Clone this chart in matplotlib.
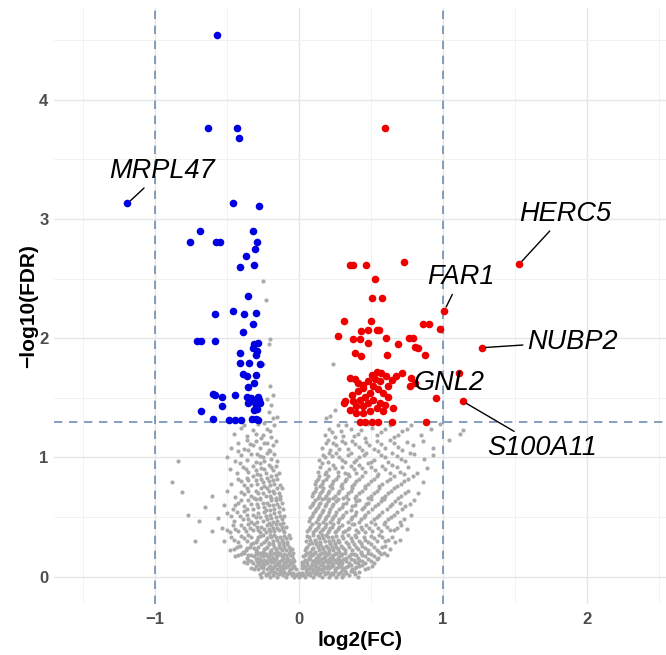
import matplotlib
matplotlib.use("Agg")
import matplotlib.pyplot as plt
from matplotlib.ticker import MultipleLocator

plt.rcParams["font.family"] = ["Liberation Sans", "DejaVu Sans"]

# significant, down-regulated (blue)
down_pts = [
    (-0.567, 4.54), (-0.63, 3.76), (-0.426, 3.76), (-0.417, 3.68),
    (-1.19, 3.13), (-0.46, 3.13), (-0.278, 3.11),
    (-0.683, 2.90), (-0.757, 2.81), (-0.576, 2.81), (-0.549, 2.81),
    (-0.317, 2.90), (-0.29, 2.81), (-0.306, 2.75), (-0.368, 2.69), (-0.405, 2.60), (-0.31, 2.61),
    (-0.352, 2.35),
    (-0.58, 2.20), (-0.456, 2.23), (-0.38, 2.20), (-0.294, 2.21), (-0.317, 2.12), (-0.39, 2.05),
    (-0.71, 1.98), (-0.676, 1.98), (-0.58, 1.98),
    (-0.31, 1.95), (-0.28, 1.96), (-0.32, 1.92), (-0.29, 1.89), (-0.30, 1.86),
    (-0.405, 1.875), (-0.41, 1.79), (-0.345, 1.79), (-0.266, 1.78),
    (-0.39, 1.70), (-0.363, 1.68), (-0.30, 1.69), (-0.31, 1.62), (-0.35, 1.59),
    (-0.595, 1.53), (-0.58, 1.52), (-0.53, 1.51), (-0.446, 1.52),
    (-0.363, 1.51), (-0.33, 1.50), (-0.285, 1.51), (-0.276, 1.48),
    (-0.535, 1.43), (-0.35, 1.46), (-0.30, 1.44), (-0.27, 1.46), (-0.32, 1.47),
    (-0.676, 1.39), (-0.31, 1.40), (-0.29, 1.41),
    (-0.595, 1.32), (-0.484, 1.31), (-0.444, 1.31), (-0.398, 1.31),
    (-0.325, 1.32), (-0.295, 1.32), (-0.28, 1.31),
]

# significant, up-regulated (red)
up_pts = [
    (0.597, 3.76), (1.53, 2.62),
    (0.359, 2.61), (0.377, 2.61), (0.465, 2.61), (0.729, 2.64), (0.53, 2.50),
    (0.51, 2.34), (0.576, 2.34), (1.01, 2.23),
    (0.317, 2.14), (0.498, 2.14), (0.863, 2.12), (0.905, 2.12), (0.98, 2.08),
    (0.273, 2.015), (0.435, 2.06), (0.481, 2.065), (0.54, 2.07), (0.56, 2.065),
    (0.377, 1.99), (0.424, 1.99), (0.48, 1.96), (0.609, 2.0), (0.692, 1.95),
    (0.762, 2.0), (0.794, 2.0), (0.806, 1.93), (0.829, 1.92),
    (0.389, 1.875), (0.435, 1.85), (0.613, 1.86), (0.873, 1.86), (1.27, 1.92),
    (1.11, 1.71), (0.717, 1.71), (0.782, 1.665), (0.806, 1.62), (0.771, 1.60),
    (0.951, 1.50), (1.14, 1.47),
    (0.886, 1.30), (0.424, 1.30), (0.458, 1.30), (0.505, 1.30), (0.551, 1.30), (0.644, 1.30),
    (0.655, 1.415), (0.315, 1.455), (0.354, 1.40),
    (0.354, 1.665), (0.389, 1.66), (0.412, 1.625), (0.447, 1.61), (0.481, 1.64), (0.505, 1.69),
    (0.54, 1.72), (0.574, 1.71), (0.609, 1.68), (0.644, 1.65), (0.678, 1.68), (0.562, 1.64),
    (0.516, 1.60), (0.551, 1.57), (0.586, 1.54), (0.62, 1.51), (0.493, 1.54), (0.458, 1.51),
    (0.424, 1.48), (0.377, 1.47), (0.32, 1.47), (0.40, 1.43), (0.447, 1.43), (0.481, 1.455),
    (0.516, 1.48), (0.563, 1.455), (0.597, 1.44), (0.54, 1.415), (0.493, 1.385), (0.447, 1.37),
    (0.40, 1.37), (0.586, 1.385), (0.447, 1.585), (0.412, 1.56), (0.366, 1.525), (0.528, 1.66),
    (0.62, 1.60),
]

# not significant (grey), estimated band by band
ns_pts = [
    # 0.00 - 0.05
    (-0.27, 0.02), (-0.25, 0.04), (-0.23, 0.01), (-0.21, 0.03), (-0.19, 0.05), (-0.18, 0.01),
    (-0.16, 0.03), (-0.14, 0.02), (-0.13, 0.05), (-0.11, 0.01), (-0.10, 0.04), (-0.08, 0.02),
    (-0.07, 0.05), (-0.05, 0.01), (-0.04, 0.03), (-0.02, 0.01), (-0.01, 0.02), (0.00, 0.00),
    (0.01, 0.01), (0.02, 0.03), (0.03, 0.01), (0.05, 0.04), (0.06, 0.02), (0.08, 0.01),
    (0.09, 0.04), (0.11, 0.02), (0.12, 0.05), (0.14, 0.01), (0.15, 0.03), (0.17, 0.05),
    (0.18, 0.02), (0.20, 0.04), (0.22, 0.01), (0.23, 0.03), (0.25, 0.05), (0.27, 0.02),
    (0.29, 0.04), (0.31, 0.01), (0.33, 0.03), (0.36, 0.05), (0.39, 0.02), (0.42, 0.04),
    (-0.26, 0.00), (-0.22, 0.02), (-0.20, 0.00), (-0.17, 0.04), (-0.15, 0.00), (-0.12, 0.03),
    (-0.09, 0.00), (-0.06, 0.03), (-0.03, 0.00), (0.00, 0.03), (0.04, 0.00), (0.07, 0.03),
    (0.10, 0.00), (0.13, 0.03), (0.16, 0.00), (0.19, 0.03), (0.21, 0.00), (0.24, 0.02),
    (0.26, 0.00), (0.28, 0.03), (0.30, 0.00), (0.32, 0.05), (0.35, 0.01), (0.38, 0.04),
    (0.41, 0.00),
    # 0.05 - 0.10
    (-0.33, 0.07), (-0.30, 0.09), (-0.28, 0.06), (-0.26, 0.08), (-0.24, 0.10), (-0.22, 0.06),
    (-0.20, 0.09), (-0.18, 0.07), (-0.16, 0.10), (-0.15, 0.06), (-0.13, 0.08), (-0.11, 0.10),
    (-0.10, 0.07), (-0.08, 0.09), (-0.06, 0.06), (-0.04, 0.08), (-0.02, 0.06), (0.02, 0.07),
    (0.03, 0.09), (0.05, 0.06), (0.06, 0.10), (0.08, 0.08), (0.10, 0.06), (0.11, 0.09),
    (0.13, 0.07), (0.15, 0.10), (0.16, 0.06), (0.18, 0.08), (0.20, 0.10), (0.21, 0.07),
    (0.23, 0.09), (0.25, 0.06), (0.27, 0.08), (0.29, 0.10), (0.31, 0.07), (0.34, 0.09),
    (0.37, 0.06), (0.40, 0.08), (0.44, 0.10), (0.48, 0.07),
    (-0.31, 0.06), (-0.27, 0.10), (-0.25, 0.07), (-0.21, 0.08), (-0.19, 0.06), (-0.17, 0.09),
    (-0.14, 0.10), (-0.12, 0.06), (-0.09, 0.08), (-0.07, 0.10), (-0.05, 0.07), (-0.03, 0.09),
    (0.02, 0.10), (0.04, 0.08), (0.07, 0.06), (0.09, 0.10), (0.12, 0.08), (0.14, 0.06),
    (0.17, 0.09), (0.19, 0.07), (0.22, 0.08), (0.24, 0.10), (0.26, 0.07), (0.28, 0.09),
    (0.30, 0.06), (0.33, 0.08), (0.36, 0.10), (0.39, 0.07), (0.42, 0.09), (0.46, 0.06),
    (0.51, 0.09),
    # 0.10 - 0.15
    (-0.38, 0.12), (-0.35, 0.14), (-0.32, 0.11), (-0.29, 0.13), (-0.27, 0.15), (-0.25, 0.11),
    (-0.23, 0.13), (-0.21, 0.15), (-0.19, 0.12), (-0.17, 0.14), (-0.15, 0.11), (-0.13, 0.13),
    (-0.11, 0.15), (-0.09, 0.12), (-0.07, 0.14), (-0.05, 0.11), (-0.03, 0.13), (0.02, 0.12),
    (0.04, 0.14), (0.06, 0.11), (0.08, 0.15), (0.10, 0.13), (0.12, 0.11), (0.14, 0.14),
    (0.16, 0.12), (0.18, 0.15), (0.20, 0.11), (0.22, 0.13), (0.24, 0.15), (0.26, 0.12),
    (0.28, 0.14), (0.30, 0.11), (0.33, 0.13), (0.36, 0.15), (0.39, 0.12), (0.42, 0.14),
    (0.46, 0.11), (0.50, 0.13), (0.54, 0.15),
    (-0.36, 0.11), (-0.33, 0.13), (-0.30, 0.15), (-0.28, 0.11), (-0.26, 0.13), (-0.24, 0.14),
    (-0.22, 0.11), (-0.20, 0.14), (-0.18, 0.12), (-0.16, 0.15), (-0.14, 0.12), (-0.12, 0.14),
    (-0.10, 0.11), (-0.08, 0.14), (-0.06, 0.12), (-0.04, 0.15), (0.03, 0.11), (0.05, 0.13),
    (0.07, 0.15), (0.09, 0.11), (0.11, 0.14), (0.13, 0.12), (0.15, 0.15), (0.17, 0.11),
    (0.19, 0.13), (0.21, 0.15), (0.23, 0.11), (0.25, 0.14), (0.27, 0.11), (0.29, 0.13),
    (0.31, 0.15), (0.35, 0.11), (0.38, 0.14), (0.41, 0.11), (0.44, 0.13), (0.48, 0.15),
    (0.52, 0.11),
    # 0.15 - 0.20
    (-0.44, 0.17), (-0.40, 0.19), (-0.36, 0.16), (-0.33, 0.18), (-0.30, 0.20), (-0.28, 0.16),
    (-0.26, 0.18), (-0.24, 0.20), (-0.22, 0.17), (-0.20, 0.19), (-0.18, 0.16), (-0.16, 0.18),
    (-0.14, 0.20), (-0.12, 0.17), (-0.10, 0.19), (-0.08, 0.16), (-0.06, 0.18), (-0.04, 0.20),
    (0.03, 0.17), (0.05, 0.19), (0.07, 0.16), (0.09, 0.18), (0.11, 0.20), (0.13, 0.17),
    (0.15, 0.19), (0.17, 0.16), (0.19, 0.18), (0.21, 0.20), (0.23, 0.17), (0.25, 0.19),
    (0.27, 0.16), (0.29, 0.18), (0.32, 0.20), (0.35, 0.17), (0.38, 0.19), (0.41, 0.16),
    (0.44, 0.18), (0.48, 0.20), (0.52, 0.17), (0.57, 0.19), (0.61, 0.18),
    (-0.42, 0.18), (-0.38, 0.20), (-0.35, 0.18), (-0.31, 0.17), (-0.29, 0.19), (-0.27, 0.20),
    (-0.25, 0.17), (-0.23, 0.19), (-0.21, 0.16), (-0.19, 0.18), (-0.17, 0.20), (-0.15, 0.17),
    (-0.13, 0.19), (-0.11, 0.16), (-0.09, 0.18), (-0.07, 0.20), (-0.05, 0.17), (0.04, 0.18),
    (0.06, 0.20), (0.08, 0.17), (0.10, 0.19), (0.12, 0.16), (0.14, 0.18), (0.16, 0.20),
    (0.18, 0.17), (0.20, 0.19), (0.22, 0.16), (0.24, 0.18), (0.26, 0.20), (0.28, 0.17),
    (0.30, 0.19), (0.33, 0.16), (0.36, 0.19), (0.40, 0.18), (0.43, 0.20), (0.46, 0.17),
    (0.50, 0.19), (0.55, 0.16), (0.59, 0.20),
    # 0.20 - 0.27
    (-0.48, 0.22), (-0.43, 0.25), (-0.39, 0.21), (-0.36, 0.24), (-0.33, 0.27), (-0.30, 0.22),
    (-0.28, 0.25), (-0.25, 0.21), (-0.23, 0.24), (-0.21, 0.27), (-0.19, 0.22), (-0.17, 0.25),
    (-0.15, 0.21), (-0.13, 0.24), (-0.11, 0.27), (-0.09, 0.22), (-0.07, 0.25), (-0.05, 0.23),
    (0.04, 0.22), (0.06, 0.25), (0.08, 0.21), (0.10, 0.24), (0.12, 0.27), (0.14, 0.22),
    (0.16, 0.25), (0.18, 0.21), (0.20, 0.24), (0.22, 0.27), (0.24, 0.22), (0.26, 0.25),
    (0.28, 0.21), (0.31, 0.24), (0.34, 0.27), (0.37, 0.22), (0.40, 0.25), (0.43, 0.21),
    (0.46, 0.24), (0.50, 0.27), (0.54, 0.22), (0.58, 0.25), (0.63, 0.23),
    (-0.45, 0.23), (-0.41, 0.26), (-0.37, 0.22), (-0.34, 0.25), (-0.31, 0.24), (-0.29, 0.21),
    (-0.26, 0.27), (-0.24, 0.23), (-0.22, 0.25), (-0.20, 0.21), (-0.18, 0.27), (-0.16, 0.23),
    (-0.14, 0.26), (-0.12, 0.22), (-0.10, 0.25), (-0.08, 0.27), (-0.06, 0.22), (0.05, 0.24),
    (0.07, 0.27), (0.09, 0.23), (0.11, 0.21), (0.13, 0.25), (0.15, 0.27), (0.17, 0.23),
    (0.19, 0.26), (0.21, 0.22), (0.23, 0.25), (0.25, 0.27), (0.27, 0.23), (0.29, 0.26),
    (0.32, 0.22), (0.35, 0.25), (0.38, 0.27), (0.41, 0.23), (0.44, 0.26), (0.48, 0.22),
    (0.52, 0.25), (0.56, 0.21), (0.60, 0.26),
    # 0.27 - 0.35
    (-0.52, 0.30), (-0.47, 0.33), (-0.42, 0.29), (-0.38, 0.32), (-0.35, 0.35), (-0.32, 0.28),
    (-0.29, 0.31), (-0.27, 0.34), (-0.24, 0.29), (-0.22, 0.32), (-0.20, 0.35), (-0.18, 0.30),
    (-0.16, 0.33), (-0.14, 0.28), (-0.12, 0.31), (-0.10, 0.34), (-0.08, 0.29), (-0.06, 0.32),
    (0.05, 0.30), (0.07, 0.33), (0.09, 0.28), (0.11, 0.31), (0.13, 0.34), (0.15, 0.29),
    (0.17, 0.32), (0.19, 0.35), (0.21, 0.30), (0.23, 0.33), (0.25, 0.28), (0.27, 0.31),
    (0.30, 0.34), (0.33, 0.29), (0.36, 0.32), (0.39, 0.35), (0.42, 0.30), (0.45, 0.33),
    (0.48, 0.29), (0.52, 0.32), (0.56, 0.35), (0.60, 0.30), (0.65, 0.33), (0.70, 0.31),
    (-0.72, 0.30),
    (-0.45, 0.31), (-0.40, 0.34), (-0.36, 0.30), (-0.33, 0.33), (-0.30, 0.29), (-0.28, 0.33),
    (-0.25, 0.35), (-0.23, 0.31), (-0.21, 0.28), (-0.19, 0.33), (-0.17, 0.35), (-0.15, 0.31),
    (-0.13, 0.33), (-0.11, 0.29), (-0.09, 0.32), (-0.07, 0.35), (0.06, 0.34), (0.08, 0.31),
    (0.10, 0.35), (0.12, 0.29), (0.14, 0.32), (0.16, 0.35), (0.18, 0.30), (0.20, 0.33),
    (0.22, 0.28), (0.24, 0.31), (0.26, 0.34), (0.28, 0.29), (0.31, 0.32), (0.34, 0.35),
    (0.37, 0.30), (0.40, 0.33), (0.43, 0.28), (0.46, 0.31), (0.50, 0.34), (0.54, 0.30),
    (0.58, 0.33), (0.62, 0.31), (0.67, 0.29),
    # 0.35 - 0.45
    (-0.60, 0.38), (-0.53, 0.41), (-0.48, 0.37), (-0.44, 0.40), (-0.40, 0.43), (-0.37, 0.38),
    (-0.34, 0.41), (-0.31, 0.44), (-0.28, 0.39), (-0.26, 0.42), (-0.23, 0.37), (-0.21, 0.40),
    (-0.19, 0.43), (-0.17, 0.38), (-0.15, 0.41), (-0.13, 0.44), (-0.11, 0.39), (-0.09, 0.42),
    (0.06, 0.38), (0.08, 0.42), (0.10, 0.37), (0.12, 0.40), (0.14, 0.44), (0.16, 0.39),
    (0.18, 0.42), (0.20, 0.37), (0.22, 0.41), (0.24, 0.44), (0.26, 0.38), (0.28, 0.42),
    (0.31, 0.37), (0.34, 0.40), (0.37, 0.44), (0.40, 0.39), (0.43, 0.42), (0.46, 0.37),
    (0.49, 0.41), (0.53, 0.44), (0.57, 0.38), (0.61, 0.42), (0.66, 0.39), (0.71, 0.43),
    (0.75, 0.40),
    (-0.50, 0.39), (-0.46, 0.43), (-0.42, 0.38), (-0.38, 0.41), (-0.35, 0.44), (-0.32, 0.39),
    (-0.29, 0.42), (-0.27, 0.37), (-0.24, 0.40), (-0.22, 0.43), (-0.20, 0.38), (-0.18, 0.41),
    (-0.16, 0.44), (-0.14, 0.39), (-0.12, 0.42), (-0.10, 0.37), (0.07, 0.40), (0.09, 0.44),
    (0.11, 0.39), (0.13, 0.42), (0.15, 0.37), (0.17, 0.40), (0.19, 0.44), (0.21, 0.39),
    (0.23, 0.42), (0.25, 0.37), (0.27, 0.40), (0.30, 0.43), (0.32, 0.38), (0.35, 0.41),
    (0.38, 0.44), (0.41, 0.37), (0.44, 0.40), (0.47, 0.43), (0.51, 0.38), (0.55, 0.41),
    (0.59, 0.44), (0.63, 0.39), (0.68, 0.41),
    # 0.45 - 0.55
    (-0.77, 0.52), (-0.69, 0.47), (-0.56, 0.49), (-0.50, 0.53), (-0.45, 0.47), (-0.41, 0.51),
    (-0.38, 0.55), (-0.35, 0.48), (-0.32, 0.52), (-0.29, 0.46), (-0.27, 0.50), (-0.24, 0.54),
    (-0.22, 0.48), (-0.20, 0.52), (-0.18, 0.46), (-0.16, 0.50), (-0.14, 0.54), (-0.12, 0.48),
    (-0.10, 0.51), (0.07, 0.47), (0.09, 0.51), (0.11, 0.55), (0.13, 0.48), (0.15, 0.52),
    (0.17, 0.46), (0.19, 0.50), (0.21, 0.54), (0.23, 0.48), (0.25, 0.52), (0.27, 0.46),
    (0.30, 0.50), (0.33, 0.54), (0.36, 0.48), (0.39, 0.52), (0.42, 0.46), (0.45, 0.50),
    (0.48, 0.54), (0.52, 0.48), (0.56, 0.52), (0.60, 0.46), (0.64, 0.50), (0.68, 0.54),
    (0.73, 0.48), (0.78, 0.52),
    (-0.47, 0.51), (-0.43, 0.54), (-0.39, 0.48), (-0.36, 0.52), (-0.33, 0.46), (-0.30, 0.50),
    (-0.28, 0.53), (-0.25, 0.47), (-0.23, 0.51), (-0.21, 0.45), (-0.19, 0.49), (-0.17, 0.53),
    (-0.15, 0.47), (-0.13, 0.51), (-0.11, 0.45), (0.08, 0.49), (0.10, 0.53), (0.12, 0.46),
    (0.14, 0.50), (0.16, 0.54), (0.18, 0.48), (0.20, 0.52), (0.22, 0.46), (0.24, 0.50),
    (0.26, 0.54), (0.28, 0.48), (0.31, 0.52), (0.34, 0.46), (0.37, 0.50), (0.40, 0.54),
    (0.43, 0.48), (0.46, 0.52), (0.50, 0.46), (0.54, 0.50), (0.58, 0.54), (0.62, 0.48),
    (0.66, 0.52), (0.70, 0.46),
    # 0.55 - 0.65
    (-0.65, 0.58), (-0.52, 0.60), (-0.46, 0.57), (-0.42, 0.62), (-0.38, 0.59), (-0.35, 0.64),
    (-0.32, 0.57), (-0.29, 0.61), (-0.27, 0.65), (-0.24, 0.58), (-0.22, 0.62), (-0.20, 0.56),
    (-0.18, 0.60), (-0.16, 0.64), (-0.14, 0.58), (-0.12, 0.62), (-0.11, 0.57), (0.08, 0.58),
    (0.10, 0.62), (0.12, 0.57), (0.14, 0.61), (0.16, 0.65), (0.18, 0.59), (0.20, 0.63),
    (0.22, 0.57), (0.24, 0.61), (0.27, 0.65), (0.30, 0.58), (0.33, 0.62), (0.36, 0.56),
    (0.39, 0.60), (0.42, 0.64), (0.45, 0.58), (0.48, 0.62), (0.51, 0.57), (0.55, 0.61),
    (0.59, 0.65), (0.63, 0.59), (0.67, 0.63), (0.72, 0.57), (0.77, 0.61), (0.80, 0.64),
    (-0.44, 0.60), (-0.40, 0.64), (-0.36, 0.57), (-0.33, 0.61), (-0.30, 0.65), (-0.28, 0.58),
    (-0.25, 0.62), (-0.23, 0.56), (-0.21, 0.60), (-0.19, 0.64), (-0.17, 0.57), (-0.15, 0.61),
    (-0.13, 0.65), (0.09, 0.60), (0.11, 0.64), (0.13, 0.58), (0.15, 0.62), (0.17, 0.56),
    (0.19, 0.61), (0.21, 0.65), (0.23, 0.59), (0.26, 0.63), (0.28, 0.57), (0.31, 0.61),
    (0.34, 0.65), (0.37, 0.59), (0.40, 0.63), (0.44, 0.57), (0.47, 0.61), (0.50, 0.65),
    (0.53, 0.59), (0.57, 0.63), (0.61, 0.57), (0.65, 0.61), (0.70, 0.62), (0.74, 0.59),
    # 0.65 - 0.75
    (-0.81, 0.71), (-0.60, 0.68), (-0.50, 0.72), (-0.44, 0.67), (-0.40, 0.71), (-0.36, 0.74),
    (-0.33, 0.68), (-0.30, 0.72), (-0.27, 0.66), (-0.25, 0.70), (-0.22, 0.74), (-0.20, 0.68),
    (-0.18, 0.72), (-0.16, 0.66), (-0.14, 0.70), (-0.12, 0.74), (0.09, 0.68), (0.11, 0.72),
    (0.13, 0.66), (0.15, 0.70), (0.17, 0.74), (0.19, 0.68), (0.21, 0.72), (0.24, 0.66),
    (0.27, 0.70), (0.30, 0.74), (0.33, 0.68), (0.36, 0.72), (0.39, 0.66), (0.42, 0.70),
    (0.46, 0.74), (0.50, 0.68), (0.54, 0.72), (0.58, 0.66), (0.62, 0.70), (0.66, 0.74),
    (0.71, 0.68), (0.76, 0.72), (0.83, 0.70),
    (-0.38, 0.69), (-0.35, 0.72), (-0.31, 0.66), (-0.28, 0.70), (-0.26, 0.74), (-0.23, 0.68),
    (-0.21, 0.72), (-0.19, 0.66), (-0.17, 0.70), (-0.15, 0.74), (-0.13, 0.68), (0.10, 0.70),
    (0.12, 0.74), (0.14, 0.68), (0.16, 0.72), (0.18, 0.66), (0.20, 0.70), (0.23, 0.74),
    (0.25, 0.68), (0.28, 0.72), (0.31, 0.66), (0.34, 0.70), (0.37, 0.74), (0.40, 0.68),
    (0.44, 0.72), (0.48, 0.66), (0.52, 0.70), (0.56, 0.74), (0.60, 0.68), (0.64, 0.72),
    (0.69, 0.66), (0.74, 0.70),
    # 0.75 - 0.85
    (-0.88, 0.79), (-0.47, 0.78), (-0.42, 0.82), (-0.38, 0.77), (-0.35, 0.81), (-0.32, 0.84),
    (-0.29, 0.78), (-0.26, 0.82), (-0.24, 0.76), (-0.21, 0.80), (-0.19, 0.84), (-0.17, 0.78),
    (-0.15, 0.82), (-0.13, 0.77), (0.11, 0.78), (0.13, 0.82), (0.15, 0.76), (0.17, 0.80),
    (0.20, 0.84), (0.23, 0.78), (0.26, 0.82), (0.29, 0.76), (0.32, 0.80), (0.35, 0.84),
    (0.38, 0.78), (0.42, 0.82), (0.46, 0.76), (0.50, 0.80), (0.54, 0.84), (0.58, 0.78),
    (0.63, 0.82), (0.68, 0.76), (0.73, 0.80), (0.79, 0.84), (0.86, 0.79),
    (-0.40, 0.80), (-0.36, 0.83), (-0.33, 0.77), (-0.30, 0.81), (-0.27, 0.85), (-0.25, 0.79),
    (-0.22, 0.83), (-0.20, 0.77), (-0.18, 0.81), (-0.16, 0.85), (0.12, 0.80), (0.14, 0.84),
    (0.16, 0.78), (0.19, 0.82), (0.22, 0.76), (0.24, 0.80), (0.27, 0.84), (0.30, 0.78),
    (0.33, 0.82), (0.37, 0.76), (0.40, 0.80), (0.44, 0.84), (0.48, 0.78), (0.52, 0.82),
    (0.56, 0.76), (0.61, 0.80), (0.66, 0.84), (0.71, 0.78), (0.76, 0.82),
    # 0.85 - 0.95
    (-0.48, 0.90), (-0.43, 0.87), (-0.39, 0.92), (-0.35, 0.88), (-0.32, 0.93), (-0.29, 0.86),
    (-0.26, 0.91), (-0.23, 0.87), (-0.21, 0.94), (-0.18, 0.89), (-0.16, 0.93), (-0.14, 0.87),
    (0.13, 0.88), (0.15, 0.92), (0.18, 0.86), (0.21, 0.90), (0.24, 0.94), (0.27, 0.88),
    (0.30, 0.92), (0.34, 0.86), (0.38, 0.90), (0.42, 0.94), (0.46, 0.88), (0.50, 0.92),
    (0.55, 0.86), (0.60, 0.90), (0.65, 0.94), (0.70, 0.88), (0.76, 0.92), (0.82, 0.87),
    (0.89, 0.91),
    (-0.41, 0.95), (-0.37, 0.90), (-0.30, 0.89), (-0.27, 0.95), (-0.24, 0.90), (-0.19, 0.92),
    (0.16, 0.95), (0.19, 0.88), (0.25, 0.91), (0.32, 0.87), (0.36, 0.93), (0.40, 0.87),
    (0.44, 0.91), (0.48, 0.95), (0.53, 0.89), (0.58, 0.93), (0.63, 0.87), (0.68, 0.92),
    (0.73, 0.86),
    # 0.95 - 1.05
    (-0.84, 0.97), (-0.50, 1.00), (-0.44, 0.97), (-0.40, 1.02), (-0.36, 0.98), (-0.33, 1.03),
    (-0.30, 0.96), (-0.27, 1.01), (-0.24, 0.97), (-0.22, 1.04), (-0.19, 0.99), (-0.17, 1.03),
    (-0.15, 0.97), (0.14, 0.98), (0.17, 1.02), (0.20, 0.96), (0.23, 1.01), (0.26, 1.04),
    (0.30, 0.98), (0.34, 1.02), (0.38, 0.96), (0.42, 1.00), (0.47, 1.04), (0.52, 0.98),
    (0.57, 1.02), (0.62, 0.96), (0.68, 1.01), (0.74, 0.97), (0.80, 1.03), (0.87, 0.99),
    (0.93, 1.02),
    (-0.42, 1.05), (-0.35, 1.06), (-0.29, 1.03), (-0.25, 1.00), (-0.20, 1.05),
    (0.18, 1.00), (0.21, 1.04), (0.28, 1.00), (0.32, 0.96), (0.36, 1.04), (0.40, 0.98),
    (0.45, 1.02), (0.50, 0.96), (0.55, 1.05), (0.60, 1.00), (0.65, 1.04), (0.71, 0.99),
    (0.77, 1.04),
    # 1.05 - 1.15
    (-0.47, 1.08), (-0.42, 1.12), (-0.38, 1.07), (-0.34, 1.11), (-0.30, 1.14), (-0.27, 1.08),
    (-0.24, 1.12), (-0.21, 1.06), (-0.18, 1.10), (-0.16, 1.14), (0.16, 1.08), (0.19, 1.12),
    (0.22, 1.06), (0.26, 1.10), (0.30, 1.14), (0.34, 1.07), (0.39, 1.11), (0.44, 1.06),
    (0.49, 1.10), (0.54, 1.14), (0.60, 1.08), (0.66, 1.12), (0.72, 1.06), (0.79, 1.10),
    (0.86, 1.14), (0.93, 1.08), (1.04, 1.15),
    (-0.36, 1.15), (-0.32, 1.10), (-0.26, 1.16), (-0.22, 1.12),
    (0.20, 1.15), (0.24, 1.12), (0.28, 1.07), (0.32, 1.12), (0.37, 1.14), (0.42, 1.09),
    (0.47, 1.13), (0.52, 1.07), (0.57, 1.11), (0.63, 1.15), (0.69, 1.09), (0.75, 1.13),
    # 1.15 - 1.30
    (-0.45, 1.20), (-0.40, 1.25), (-0.36, 1.18), (-0.32, 1.23), (-0.28, 1.28), (-0.25, 1.19),
    (-0.22, 1.24), (-0.19, 1.17), (-0.17, 1.27), (0.18, 1.19), (0.21, 1.24), (0.25, 1.17),
    (0.29, 1.22), (0.33, 1.27), (0.38, 1.18), (0.43, 1.23), (0.48, 1.28), (0.54, 1.19),
    (0.60, 1.24), (0.66, 1.17), (0.72, 1.22), (0.78, 1.27), (0.85, 1.19), (0.92, 1.24),
    (0.98, 1.28), (1.12, 1.20), (1.14, 1.23),
    (-0.38, 1.27), (-0.30, 1.20), (-0.24, 1.29), (-0.20, 1.22),
    (0.23, 1.21), (0.27, 1.27), (0.31, 1.18), (0.36, 1.24), (0.41, 1.20), (0.46, 1.16),
    (0.51, 1.25), (0.57, 1.21), (0.63, 1.27), (0.69, 1.19), (0.75, 1.24),
    # above the FDR line but small fold change
    (-0.25, 2.48), (-0.23, 2.32), (-0.20, 1.99), (-0.21, 1.95), (-0.25, 1.78), (-0.20, 1.60),
    (-0.18, 1.52), (-0.22, 1.49), (-0.19, 1.44), (-0.21, 1.38), (-0.18, 1.33), (-0.15, 1.34),
    (0.24, 1.78), (0.25, 1.40), (0.22, 1.35), (0.19, 1.33),
]

genes = ["MRPL47", "HERC5", "FAR1", "NUBP2", "GNL2", "S100A11"]
gene_x = [-1.19, 1.53, 1.01, 1.27, 0.951, 1.14]
gene_y = [3.13, 2.62, 2.23, 1.92, 1.50, 1.47]

fc_cut = 1
fdr_cut = 1.3

fig = plt.figure(figsize=(6.66, 6.55), dpi=100)
ax = fig.add_axes([54 / 666, 51 / 655, 612 / 666, 596 / 655])

ns_x, ns_y = zip(*ns_pts)
dn_x, dn_y = zip(*down_pts)
up_x, up_y = zip(*up_pts)
ax.scatter(ns_x, ns_y, s=9, color="#aaaaaa", linewidths=0, zorder=2)
ax.scatter(dn_x, dn_y, s=30, color="#0000e0", linewidths=0, zorder=3)
ax.scatter(up_x, up_y, s=30, color="#ee0000", linewidths=0, zorder=3)

dash = dict(color="#6f8fb2", lw=1.2, linestyle=(0, (5, 4)), zorder=1)
ax.axvline(-fc_cut, **dash)
ax.axvline(fc_cut, **dash)
ax.axhline(fdr_cut, **dash)

# label offsets (x, y) in data units
offsets = [(0.24, 0.27), (0.32, 0.42), (0.115, 0.28), (0.63, 0.05), (0.09, 0.12), (0.55, -0.39)]
for g, x, y, (dx, dy) in zip(genes, gene_x, gene_y, offsets):
    arrow = None if g == "GNL2" else dict(arrowstyle="-", color="black", lw=1, shrinkA=1, shrinkB=3)
    ax.annotate(g, (x, y), xytext=(x + dx, y + dy), ha="center", va="center",
                fontsize=19.5, style="italic", arrowprops=arrow, zorder=4)

ax.set_xlim(-1.7, 2.55)
ax.set_ylim(-0.23, 4.77)
ax.xaxis.set_major_locator(MultipleLocator(1))
ax.yaxis.set_major_locator(MultipleLocator(1))
ax.xaxis.set_minor_locator(MultipleLocator(0.5))
ax.yaxis.set_minor_locator(MultipleLocator(0.5))
ax.grid(which="major", color="#e6e6e6", lw=1.0)
ax.grid(which="minor", color="#f0f0f0", lw=0.6)
ax.set_axisbelow(True)
for s in ax.spines.values():
    s.set_visible(False)
ax.tick_params(which="both", length=0)
ax.tick_params(axis="x", pad=6)
ax.tick_params(axis="y", pad=4)
for lab in ax.get_xticklabels() + ax.get_yticklabels():
    lab.set_fontsize(12)
    lab.set_fontweight("bold")
    lab.set_color("#4d4d4d")

ax.set_xlabel("log2(FC)", fontsize=15, fontweight="bold", labelpad=3)
ax.set_ylabel("\u2212log10(FDR)", fontsize=15, fontweight="bold", labelpad=1)

fig.savefig("out.png", dpi=100)
